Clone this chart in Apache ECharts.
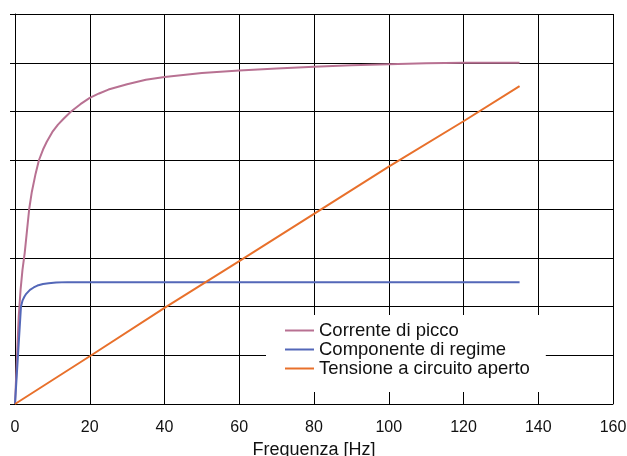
<!DOCTYPE html>
<html>
<head>
<meta charset="utf-8">
<script src="https://cdn.jsdelivr.net/npm/echarts@6/dist/echarts.min.js"></script>
<style>
  html, body { margin: 0; padding: 0; background: #fff; }
  #chart { width: 627px; height: 456px; }
</style>
</head>
<body>
<div id="chart"></div>
<script>
// valori (frequenza in Hz, asse y in divisioni di griglia)
var xTicks = [0, 20, 40, 60, 80, 100, 120, 140, 160];
var seriesNames = ["Corrente di picco", "Componente di regime", "Tensione a circuito aperto"];

var correnteFreq = [0, 0.5, 1, 1.5, 2, 2.6, 3.2, 3.8, 4.5, 5.5, 6.4, 7.5, 8.5, 10, 11.5, 13, 15, 17.5, 20, 22.5, 25, 30, 35, 40, 45, 50, 60, 70, 80, 90, 100, 110, 120, 135];
var correnteVal  = [0, 0.9, 1.8, 2.35, 2.75, 3.1, 3.55, 4.0, 4.35, 4.72, 5.0, 5.22, 5.38, 5.58, 5.73, 5.85, 6.0, 6.15, 6.28, 6.37, 6.45, 6.56, 6.65, 6.71, 6.75, 6.79, 6.84, 6.88, 6.92, 6.95, 6.97, 6.99, 7.0, 7.0];

var regimeFreq = [0, 1.6, 2, 2.5, 3, 4, 5, 6, 7.5, 9, 11, 14, 40, 80, 135];
var regimeVal  = [0, 2.0, 2.12, 2.2, 2.26, 2.34, 2.39, 2.43, 2.46, 2.475, 2.49, 2.5, 2.5, 2.5, 2.5];

var tensioneFreq = [0, 20, 40, 60, 80, 100, 120, 135];
var tensioneVal  = [0, 0.98, 1.97, 2.93, 3.9, 4.87, 5.8, 6.52];

var colors = ["#b87192", "#5367b8", "#e8702b"];

function pairs(xs, ys) {
  return xs.map(function (x, i) { return [x, ys[i]]; });
}

var font = "'Liberation Sans', Arial, Helvetica, sans-serif";

var option = {
  animation: false,
  backgroundColor: "#fff",
  grid: { left: 15, right: 14, top: 14, bottom: 52, containLabel: false, outerBoundsMode: "none" },
  legend: {
    orient: "vertical",
    left: 266,
    top: 315,
    padding: [6, 16, 14, 19],
    backgroundColor: "#fff",
    itemWidth: 29,
    itemHeight: 2,
    itemGap: 0,
    icon: "rect",
    textStyle: { fontFamily: font, fontSize: 18.5, color: "#111", lineHeight: 18.5 },
    data: seriesNames
  },
  xAxis: {
    type: "value",
    min: 0,
    max: 160,
    interval: 20,
    name: "Frequenza [Hz]",
    nameLocation: "middle",
    nameGap: 34,
    nameTextStyle: { fontFamily: font, fontSize: 18, color: "#111" },
    axisLine: { lineStyle: { color: "#000", width: 1 } },
    axisTick: { show: false },
    axisLabel: {
      fontFamily: font, fontSize: 16, color: "#111", margin: 16,
      formatter: function (v) { return xTicks.indexOf(v) >= 0 ? String(v) : ""; }
    },
    splitLine: { show: true, lineStyle: { color: "#000", width: 1 } }
  },
  yAxis: {
    type: "value",
    min: 0,
    max: 8,
    interval: 1,
    axisLine: { show: true, lineStyle: { color: "#000", width: 1 } },
    axisTick: { show: true, length: 5, lineStyle: { color: "#000" } },
    axisLabel: { show: false },
    splitLine: { show: true, lineStyle: { color: "#000", width: 1 } }
  },
  series: [
    {
      name: seriesNames[0], type: "line", showSymbol: false,
      data: pairs(correnteFreq, correnteVal),
      lineStyle: { color: colors[0], width: 2 }, itemStyle: { color: colors[0] }, z: 3
    },
    {
      name: seriesNames[1], type: "line", showSymbol: false,
      data: pairs(regimeFreq, regimeVal),
      lineStyle: { color: colors[1], width: 2 }, itemStyle: { color: colors[1] }, z: 4
    },
    {
      name: seriesNames[2], type: "line", showSymbol: false,
      data: pairs(tensioneFreq, tensioneVal),
      lineStyle: { color: colors[2], width: 2 }, itemStyle: { color: colors[2] }, z: 5
    }
  ]
};

var chart = echarts.init(document.getElementById("chart"));
chart.setOption(option);
</script>
</body>
</html>
